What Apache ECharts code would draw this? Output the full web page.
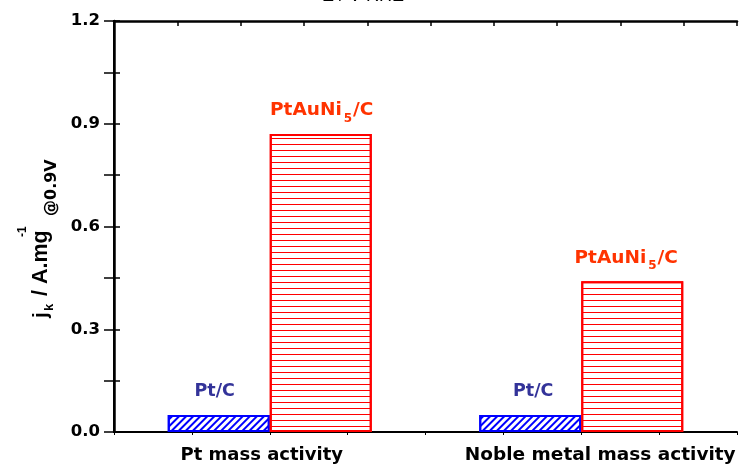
<!DOCTYPE html>
<html>
<head>
<meta charset="utf-8">
<script src="https://cdn.jsdelivr.net/npm/echarts@6/dist/echarts.min.js"></script>
<style>
  html, body { margin: 0; padding: 0; background: #fff; }
  #chart { width: 742px; height: 468px; }
</style>
</head>
<body>
<div id="chart"></div>
<script>
// Categories and measured specific activities (A per mg at 0.9 V)
const categories = ['Pt mass activity', 'Noble metal mass activity'];
const ptC = [0.05, 0.05];
const ptAuNi5C = [0.87, 0.44];
const seriesNames = ['Pt/C', 'PtAuNi5/C'];

// horizontal nudges of the series-name labels above each bar
const ptCLabelShift = [-4, 3];
const ptAuNiLabelShift = [1, -6];

const boldFont = 'DejaVu Sans';
const chart = echarts.init(document.getElementById('chart'), null, { renderer: 'canvas' });

const toItems = (values, shifts) => values.map((v, i) => ({ value: v, label: { offset: [shifts[i], 0] } }));

const option = {
  animation: false,
  backgroundColor: '#fff',
  grid: { left: 114, right: 5, top: 21, bottom: 36, containLabel: false },
  xAxis: [
    {
      type: 'category',
      data: categories,
      position: 'bottom',
      axisLine: { show: true, lineStyle: { color: '#000', width: 2 } },
      axisTick: { show: false },
      axisLabel: {
        margin: 14,
        formatter: (v, i) => '{c' + i + '|' + v + '}',
        rich: {
          c0: { fontFamily: boldFont, fontWeight: 'bold', fontSize: 18, color: '#000', padding: [0, 16, 0, 0] },
          c1: { fontFamily: boldFont, fontWeight: 'bold', fontSize: 18.5, color: '#000', padding: [0, 0, 0, 38] }
        }
      },
      splitLine: { show: false }
    },
    {
      // small outward ticks along the bottom frame
      type: 'value', position: 'bottom', min: 0, max: 8, interval: 1,
      axisLine: { show: false },
      axisTick: { show: true, inside: false, length: 3, lineStyle: { color: '#000', width: 1 } },
      axisLabel: { show: false },
      splitLine: { show: false }
    },
    {
      // top frame, E / V RHE scale
      type: 'value', position: 'top', min: 0, max: 9.84, interval: 1,
      axisLine: { show: true, lineStyle: { color: '#000', width: 2.5 } },
      axisTick: { show: true, inside: true, length: 5, lineStyle: { color: '#000', width: 1.5 } },
      axisLabel: { show: false },
      splitLine: { show: false }
    }
  ],
  yAxis: [
    {
      type: 'value', min: 0, max: 1.2, interval: 0.3, position: 'left',
      axisLine: { show: true, lineStyle: { color: '#000', width: 2 } },
      axisTick: { show: true, inside: true, length: 6, lineStyle: { color: '#000', width: 1.5 } },
      minorTick: { show: true, splitNumber: 2, length: 6, lineStyle: { color: '#000', width: 1.5 } },
      axisLabel: {
        margin: 14, color: '#000', fontFamily: boldFont, fontWeight: 'bold', fontSize: 16.5,
        formatter: v => v.toFixed(1)
      },
      splitLine: { show: false }
    },
    {
      type: 'value', min: 0, max: 1.2, interval: 0.15, position: 'right',
      axisLine: { show: true, lineStyle: { color: '#000', width: 2.5 } },
      axisTick: { show: true, inside: true, length: 10, lineStyle: { color: '#000', width: 1.5 } },
      axisLabel: { show: false },
      splitLine: { show: false }
    }
  ],
  series: [
    {
      type: 'bar', name: seriesNames[0], data: toItems(ptC, ptCLabelShift),
      xAxisIndex: 0, yAxisIndex: 0,
      barWidth: 102, barGap: '0%',
      itemStyle: {
        color: '#fff', borderColor: '#0000ff', borderWidth: 2,
        decal: {
          symbol: 'rect', symbolSize: 1, color: '#0000ff', backgroundColor: null,
          dashArrayX: [1, 0], dashArrayY: [2, 3], rotation: -Math.PI / 4
        }
      },
      label: {
        show: true, position: 'top', distance: 14,
        formatter: seriesNames[0],
        color: '#333399', fontFamily: boldFont, fontWeight: 'bold', fontSize: 17.5
      }
    },
    {
      type: 'bar', name: seriesNames[1], data: toItems(ptAuNi5C, ptAuNiLabelShift),
      xAxisIndex: 0, yAxisIndex: 0,
      barWidth: 102, barGap: '0%',
      itemStyle: {
        color: '#fff', borderColor: '#ff0000', borderWidth: 2,
        decal: {
          symbol: 'rect', symbolSize: 1, color: '#ff0000', backgroundColor: null,
          dashArrayX: [1, 0], dashArrayY: [1, 5], rotation: 0
        }
      },
      label: {
        show: true, position: 'top', distance: 12,
        formatter: '{a|PtAuNi}{s|5}{a|/C}',
        rich: {
          a: { color: '#ff3300', fontFamily: boldFont, fontWeight: 'bold', fontSize: 18.5, lineHeight: 21, verticalAlign: 'top' },
          s: { color: '#ff3300', fontFamily: boldFont, fontWeight: 'bold', fontSize: 12, lineHeight: 12, verticalAlign: 'top', padding: [12, 1, 0, 2] }
        }
      }
    }
  ],
  graphic: [
    {
      type: 'text', x: 363, y: -4,
      style: { text: 'E / V RHE', fontFamily: 'Liberation Sans', fontSize: 18, fill: '#000', textAlign: 'center', verticalAlign: 'middle' }
    },
    {
      type: 'group', x: 48.5, y: 318, rotation: Math.PI / 2,
      children: [
        { type: 'text', x: 0, y: -7.5, style: { text: 'j', fontFamily: 'Liberation Sans', fontWeight: 'bold', fontSize: 21, fill: '#000', verticalAlign: 'middle' } },
        { type: 'text', x: 7, y: 0.5, style: { text: 'k', fontFamily: 'Liberation Sans', fontWeight: 'bold', fontSize: 13, fill: '#000', verticalAlign: 'middle' } },
        { type: 'text', x: 22, y: -7.5, style: { text: '/ A.mg', fontFamily: 'Liberation Sans', fontWeight: 'bold', fontSize: 21.5, fill: '#000', verticalAlign: 'middle' } },
        { type: 'text', x: 81, y: -26, style: { text: '-1', fontFamily: 'Liberation Sans', fontWeight: 'bold', fontSize: 12, fill: '#000', verticalAlign: 'middle' } },
        { type: 'text', x: 102, y: 3, style: { text: '@0.9V', fontFamily: boldFont, fontWeight: 'bold', fontSize: 16, fill: '#000', verticalAlign: 'middle' } }
      ]
    }
  ]
};

chart.setOption(option);
</script>
</body>
</html>
